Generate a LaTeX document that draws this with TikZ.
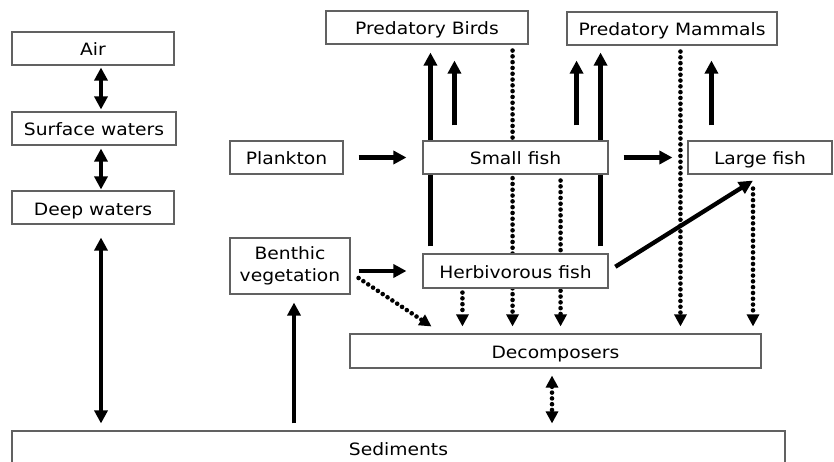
\documentclass[tikz,border=0pt]{standalone}
\usepackage{fontspec}
\setmainfont[FakeStretch=1.1]{DejaVu Sans}
\usetikzlibrary{arrows.meta}
\pgfdeclarelayer{background}
\pgfsetlayers{background,main}
\begin{document}
\begin{tikzpicture}[x=1pt,y=-1pt,
  box/.style={draw=black!62,line width=1.1pt,fill=white,inner sep=0pt,font=\fontsize{17}{22}\selectfont,align=center},
  one/.style={text height=15pt,text depth=0pt},
  thk/.style={line width=4.3pt,-{Triangle[length=13pt,width=13pt]}},
  thkb/.style={line width=4.3pt,{Triangle[length=13pt,width=13pt]}-{Triangle[length=13pt,width=13pt]}},
  dots/.style={line width=4.6pt,line cap=round,dash pattern=on 0pt off 5.8pt,-{Triangle[length=12pt,width=12pt]}},
  dotsb/.style={line width=4.6pt,line cap=round,dash pattern=on 0pt off 5.8pt,{Triangle[length=12pt,width=12pt]}-{Triangle[length=12pt,width=12pt]}}]
\useasboundingbox (0,0) rectangle (834,462);
\clip (0,0) rectangle (834,462);
% boxes
\node[box,one,minimum width=202pt,minimum height=33pt] (birds) at (427,27.5) {Predatory Birds};
\node[box,one,minimum width=210pt,minimum height=33pt] (mamm) at (672,28.5) {Predatory Mammals};
\node[box,one,minimum width=185pt,minimum height=33pt] (small) at (515.5,157.5) {Small fish};
\node[box,one,minimum width=185pt,minimum height=34pt] (herb) at (515.5,271) {Herbivorous fish};
\node[box,one,minimum width=411pt,minimum height=34pt] (decomp) at (555.5,351) {Decomposers};
\node[box,one,minimum width=162pt,minimum height=33pt] (air) at (93,48.5) {Air};
\node[box,one,minimum width=164pt,minimum height=33pt] (surf) at (94,128.5) {Surface waters};
\node[box,one,minimum width=162pt,minimum height=33pt] (deep) at (93,207.5) {Deep waters};
\node[box,one,minimum width=113pt,minimum height=33pt] (plank) at (286.5,157.5) {Plankton};
\node[box,one,minimum width=144pt,minimum height=33pt] (large) at (760,157.5) {Large fish};
\node[box,minimum width=120pt,minimum height=56pt] (benth) at (290,266) {Benthic\\vegetation};
\node[box,one,minimum width=773pt,minimum height=33pt] (sed) at (398.5,447.5) {Sediments};
\begin{pgfonlayer}{background}
% long lines behind the fish boxes
\draw[thk,shorten <=7pt,shorten >=8pt] ([xshift=8pt]herb.north west) -- ([xshift=8pt]herb.north west |- birds.south);
\draw[thk,shorten <=7pt,shorten >=7pt] ([xshift=-8pt]herb.north east) -- ([xshift=-8pt]herb.north east |- mamm.south);
\draw[dots,shorten <=6pt,shorten >=7pt] ([xshift=-16pt]birds.south east) -- ([xshift=-16pt]birds.south east |- decomp.north);
\draw[dots,shorten <=6pt,shorten >=7pt] ([xshift=-48pt]small.south east) -- ([xshift=-48pt]small.south east |- decomp.north);
% left column
\draw[thkb,shorten <=2pt,shorten >=2pt] ([xshift=8pt]air.south) -- ([xshift=8pt]air.south |- surf.north);
\draw[thkb,shorten <=3pt,shorten >=1pt] ([xshift=7pt]surf.south) -- ([xshift=7pt]surf.south |- deep.north);
\draw[thkb,shorten <=13pt,shorten >=7pt] ([xshift=8pt]deep.south) -- ([xshift=8pt]deep.south |- sed.north);
\draw[thk,shorten <=7pt,shorten >=8pt] ([xshift=4pt]benth.south |- sed.north) -- ([xshift=4pt]benth.south);
% horizontal
\draw[thk,shorten <=15pt,shorten >=16pt] (plank.east) -- (small.west);
\draw[thk,shorten <=15pt,shorten >=15pt] (small.east) -- (large.west);
\draw[thk,shorten <=8pt,shorten >=16pt] (benth.east |- herb.west) -- (herb.west);
% short upward
\draw[thk,shorten <=15pt,shorten >=16pt] ([xshift=32pt]small.north west) -- ([xshift=32pt]small.north west |- birds.south);
\draw[thk,shorten <=15pt,shorten >=15pt] ([xshift=-32pt]small.north east) -- ([xshift=-32pt]small.north east |- mamm.south);
\draw[thk,shorten <=15pt,shorten >=15pt] ([xshift=24pt]large.north west) -- ([xshift=24pt]large.north west |- mamm.south);
% diagonal
\draw[line width=4.3pt,-{Triangle[length=14pt,width=13pt]},shorten <=8pt] (herb.east) -- ([xshift=-7pt,yshift=-6pt]large.south);
\draw[dots] ([xshift=8pt,yshift=-12pt]benth.east) -- ([xshift=82pt,yshift=7pt]decomp.north west);
% dotted downward
\draw[dots,shorten <=6pt,shorten >=7pt] ([xshift=-7pt]large.west |- mamm.south) -- ([xshift=-7pt]large.west |- decomp.north);
\draw[dots,shorten <=14pt,shorten >=7pt] ([xshift=-7pt]large.south) -- ([xshift=-7pt]large.south |- decomp.north);
\draw[dots,shorten <=4pt,shorten >=7pt] ([xshift=40pt]herb.south west) -- ([xshift=40pt]herb.south west |- decomp.north);
\draw[dotsb,shorten <=7pt,shorten >=7pt] ([xshift=-3.5pt]decomp.south) -- ([xshift=-3.5pt]decomp.south |- sed.north);
\end{pgfonlayer}
\end{tikzpicture}
\end{document}
